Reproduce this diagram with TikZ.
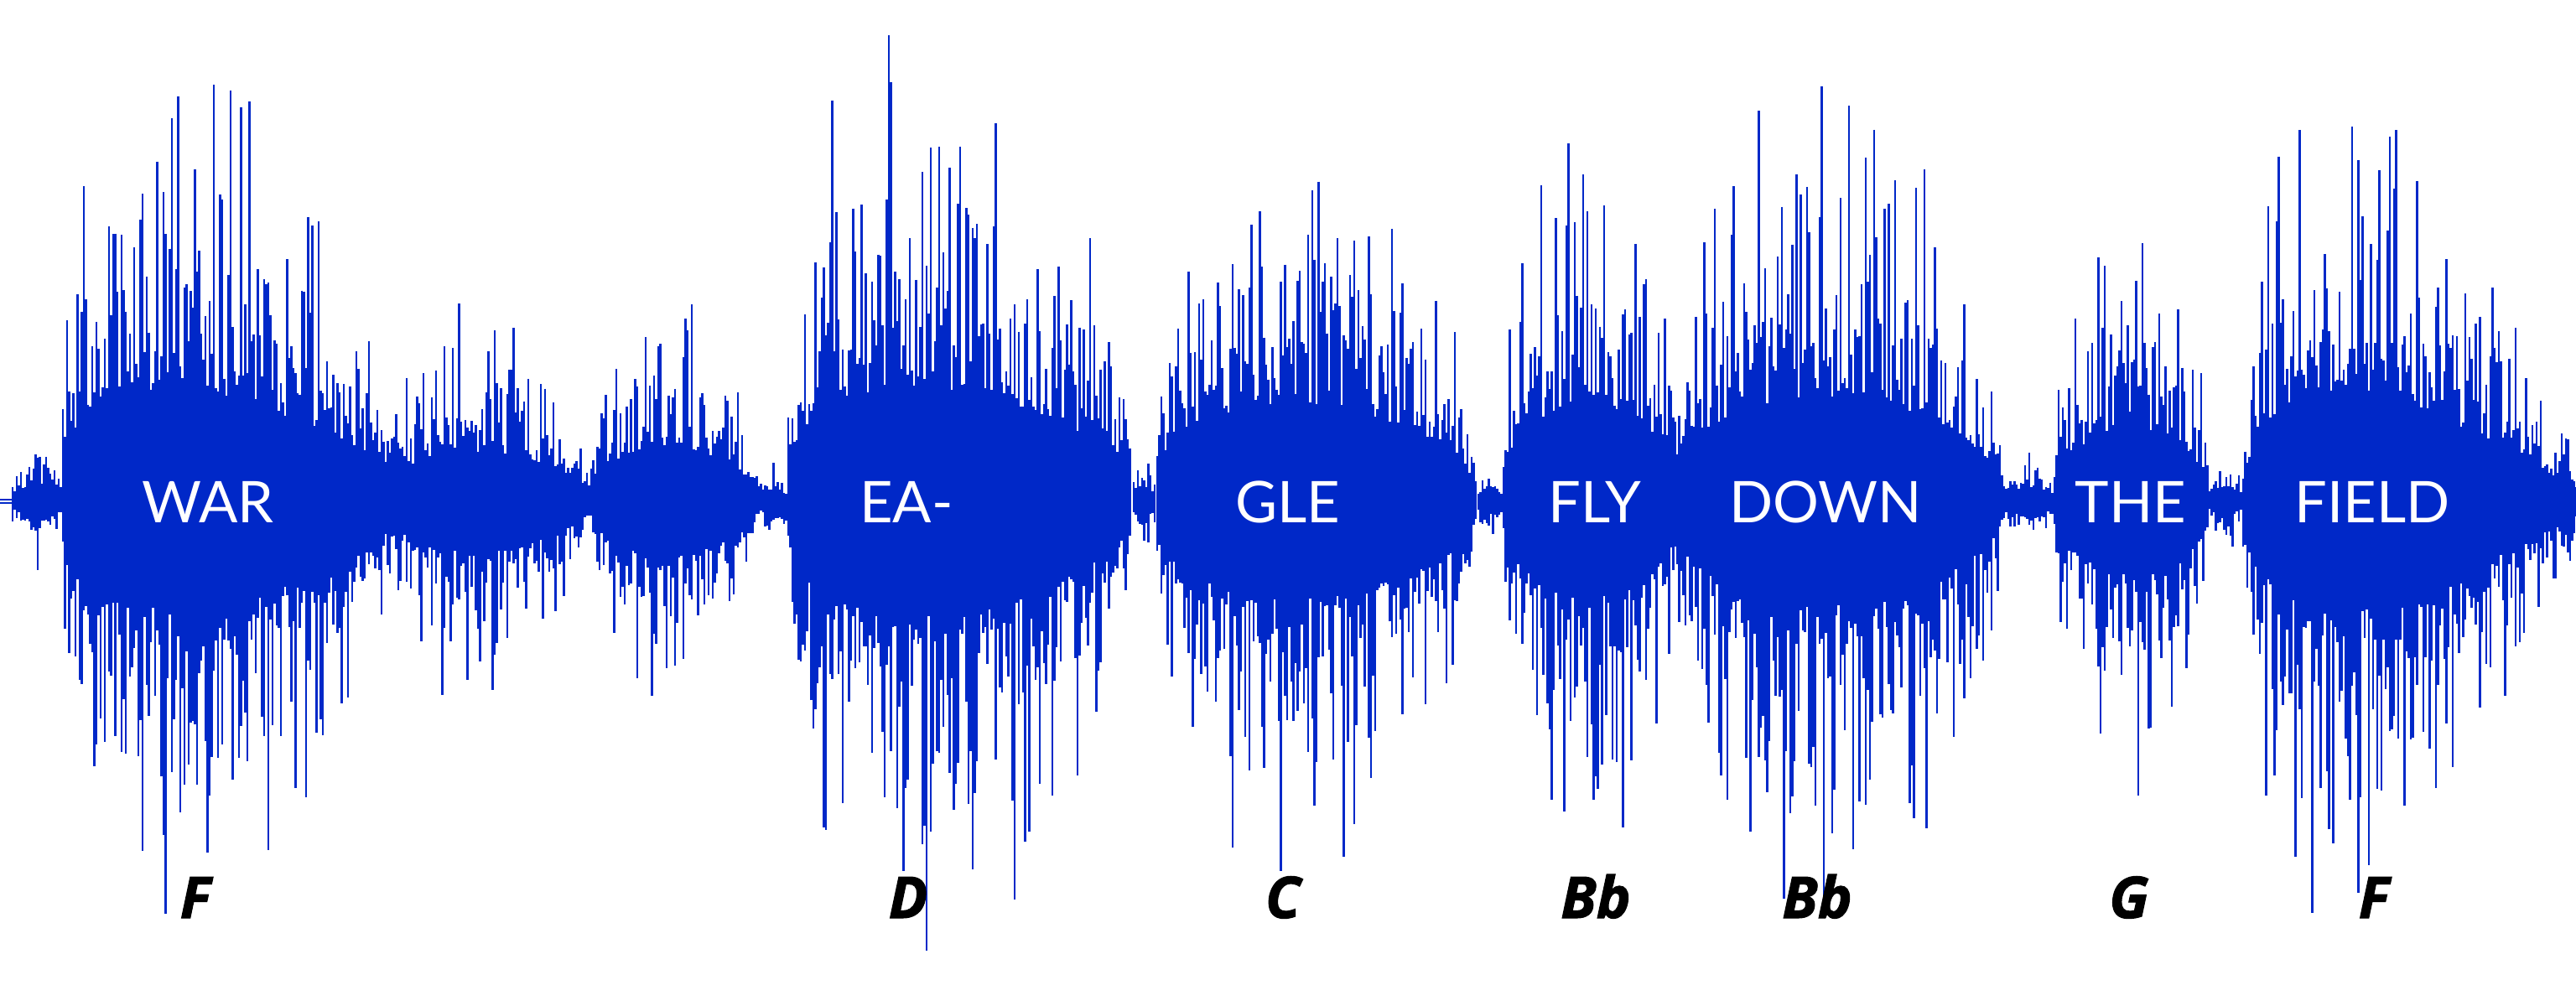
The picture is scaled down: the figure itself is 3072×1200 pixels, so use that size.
\documentclass[tikz,border=0pt]{standalone}
\usepackage{fontspec}
\usepackage{tikz}

\newfontfamily\lyricfont{Lato}
\newfontfamily\notefont{Open Sans}[BoldItalicFeatures={FakeBold=1.6}]
\definecolor{waveblue}{RGB}{0,40,200}

\begin{document}
\begin{tikzpicture}[
			x=0.01cm,
			y=0.01cm,
			line cap=butt,
			line width=0.75pt,
			lyric/.style={anchor=base,text=white,font=\lyricfont\fontsize{19.5}{19.5}\selectfont},
			note/.style={anchor=base,text=black,font=\notefont\bfseries\itshape\fontsize{19.5}{19.5}\selectfont}
			]
			
			\useasboundingbox (0,-602) rectangle (3072,598);
			\pgfmathsetseed{4217}
			
			\def\BarStep{2.5}
			\def\CoreShare{0.22}
			\def\NoiseFloor{22}
			
			% #1 start, #2 end, #3 peak height, #4 skew, #5 shape power
			\newcommand{\WaveSegment}[5]{%
				\pgfmathsetmacro{\SegNext}{#1+\BarStep}
				\pgfmathsetmacro{\SegEnd}{#2-\BarStep}
				\foreach \x in {#1,\SegNext,...,\SegEnd}{%
					\pgfmathsetmacro{\SegT}{(\x-#1+1.25)/(#2-#1)}
					\pgfmathsetmacro{\SegEnv}{\NoiseFloor+#3*sin(180*\SegT^#4)^#5}
					\pgfmathsetmacro{\TopH}{3+\SegEnv*(\CoreShare+(1-\CoreShare)*rnd*rnd)}
					\pgfmathsetmacro{\BotH}{3+\SegEnv*(\CoreShare+(1-\CoreShare)*rnd*rnd)}
					\draw[waveblue] (\x,\TopH) -- (\x,-\BotH);
				}%
			}
			
			% waveform, segment by segment
			\draw[waveblue] (0,2) -- (45,2) -- (45,-2) -- (0,-2);
			\WaveSegment{15}{75}{60}{1.3}{1}
			\WaveSegment{75}{475}{540}{0.6}{0.5}
			\WaveSegment{455}{705}{230}{0.9}{0.6}
			\WaveSegment{705}{905}{260}{0.9}{0.6}
			\WaveSegment{905}{940}{30}{1}{1}
			\WaveSegment{940}{1352}{580}{0.7}{0.5}
			\WaveSegment{1352}{1380}{40}{1}{1}
			\WaveSegment{1380}{1763}{490}{0.8}{0.5}
			\WaveSegment{1763}{1793}{30}{1}{1}
			\WaveSegment{1793}{2000}{480}{1}{0.4}
			\WaveSegment{1990}{2390}{530}{0.9}{0.5}
			\WaveSegment{2390}{2450}{40}{1}{1}
			\WaveSegment{2450}{2635}{360}{1}{0.5}
			\WaveSegment{2635}{2675}{40}{1}{1}
			\WaveSegment{2675}{3090}{560}{0.55}{1}
			
			% lyrics
			\node[lyric] (war) at (248,-25) {WAR};
			\node[lyric] (ea) at (1081,-25) {EA-};
			\node[lyric] (gle) at (1536,-25) {GLE};
			\node[lyric] (fly) at (1902,-25) {FLY};
			\node[lyric] (down) at (2177,-25) {DOWN};
			\node[lyric] (the) at (2541,-25) {THE};
			\node[lyric] (field) at (2829,-25) {FIELD};
			
			% notes
			\node[note] (noteF) at (233,-497) {F};
			\node[note] (noteD) at (1083,-497) {D};
			\node[note] (noteC) at (1530,-497) {C};
			\node[note] (noteBbA) at (1903,-497) {Bb};
			\node[note] (noteBbB) at (2167,-497) {Bb};
			\node[note] (noteG) at (2539,-497) {G};
			\node[note] (noteFF) at (2831,-497) {F};
			
		\end{tikzpicture}
\end{document}
